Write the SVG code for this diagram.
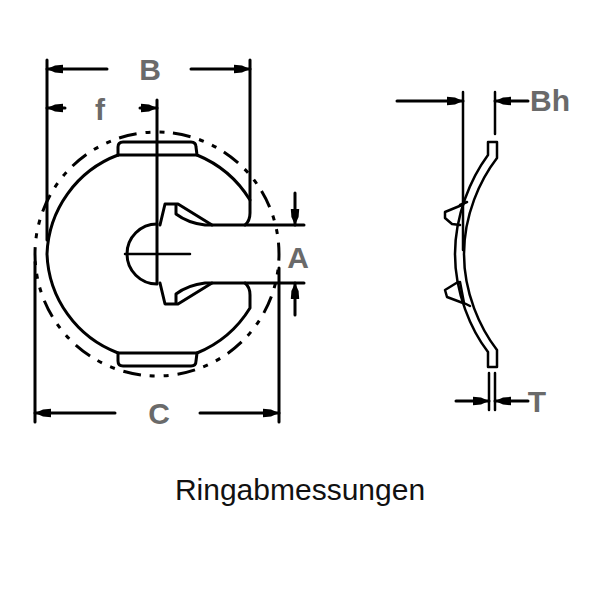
<svg xmlns="http://www.w3.org/2000/svg" width="600" height="600" viewBox="0 0 600 600">
<style>
.l{fill:none;stroke:#000;stroke-width:3;stroke-linejoin:round;stroke-linecap:round}
.t{fill:none;stroke:#000;stroke-width:2.5;stroke-linejoin:round;stroke-linecap:round}
.d{fill:none;stroke:#000;stroke-width:3;stroke-linecap:round}
.a{marker-end:url(#h)}
.lab{font-family:"Liberation Sans",Arial,sans-serif;font-weight:700;font-size:30px;fill:#6a6a6a;text-anchor:middle}
.cap{font-family:"Liberation Sans",Arial,sans-serif;font-size:30px;fill:#111;text-anchor:middle}
</style>
<defs>
<marker id="h" markerUnits="userSpaceOnUse" viewBox="-17 -5 18 10" refX="0" refY="0" markerWidth="18" markerHeight="10" orient="auto">
<path d="M0,0 L-8,-3.6 L-16,-4.2 L-16,4.2 L-8,3.6 Z" fill="#000"/>
</marker>
</defs>
<g id="ring">
<circle cx="157" cy="254" r="122" transform="rotate(-82.5 157 254)" fill="none" stroke="#000" stroke-width="3" stroke-dasharray="18 9 5 9 5 8.75"/>
<path class="l" d="M118,155 A110,110 0 0 0 47,254 A110,110 0 0 0 118,353 L118,361 Q118,366 123,366 L191,366 Q196,366 196,361 L197,353 A112,112 0 0 0 250,308 L250,295 Q250,287 245,283 L212,283 L178,304 L165,304 L160,283"/>
<path class="l" d="M118,155 L118,147 Q118,142 123,142 L191,142 Q196,142 196,147 L197,155 A112,112 0 0 1 250,200 L250,213 Q250,221 245,225 L212,225 L178,204 L165,204 L160,225"/>
<path class="l" d="M118,155 L197,155 M118,353 L197,353"/>
<path class="l" d="M176,205 L176,214 Q188,223 205,225 L212,225 M176,303 L176,294 Q188,285 205,283 L212,283"/>
<path class="l" d="M157,224 A30,30 0 0 0 157,284"/>
<path class="t" d="M125,254 L190,254"/>
</g>
<g id="side-view">
<path class="t" d="M488,142 L497,142 L497,158 C480,180 464,215 464,254 C464,293 480,328 497,350 L497,367 L488,367 L488,352 C471,330 455,293 455,254 C455,215 471,178 488,155 Z"/>
<path class="t" d="M462,205 L445,212 L445,218 L452,224 L460,225 M458,282 L445,290 L447,297 L463,303 M460,205 L467,202 M460,282 L464,303 L470,306"/>
</g>
<g id="connectors">
<path class="d" d="M157,100 L157,283 M47,60 L47,240 M250,60 L250,200 M35,262 L35,422 M279,268 L279,422"/>
<path class="d" d="M245,225 L304,225 M245,283 L304,283"/>
<path class="d a" d="M107,69 L47,69"/>
<path class="d a" d="M191,69 L250,69"/>
<path class="d a" d="M65,108 L47,108"/>
<path class="d a" d="M140,108 L157,108"/>
<path class="d a" d="M115,413 L35,413"/>
<path class="d a" d="M200,413 L279,413"/>
<path class="d a" d="M295,193 L295,225"/>
<path class="d a" d="M295,315 L295,283"/>
<path class="t" d="M463,92 L463,250 M495,92 L495,134 M489,373 L489,410 M495,373 L495,410"/>
<path class="d a" d="M397,101 L463,101"/>
<path class="d a" d="M528,101 L495,101"/>
<path class="d a" d="M456,401 L489,401"/>
<path class="d a" d="M528,401 L495,401"/>
</g>
<g id="labels">
<text class="lab" x="150" y="80">B</text>
<text class="lab" x="100" y="120">f</text>
<text class="lab" x="298" y="268">A</text>
<text class="lab" x="159" y="424">C</text>
<text class="lab" x="550" y="111">Bh</text>
<text class="lab" x="537" y="412">T</text>
<text class="cap" x="300" y="500">Ringabmessungen</text>
</g>
</svg>
